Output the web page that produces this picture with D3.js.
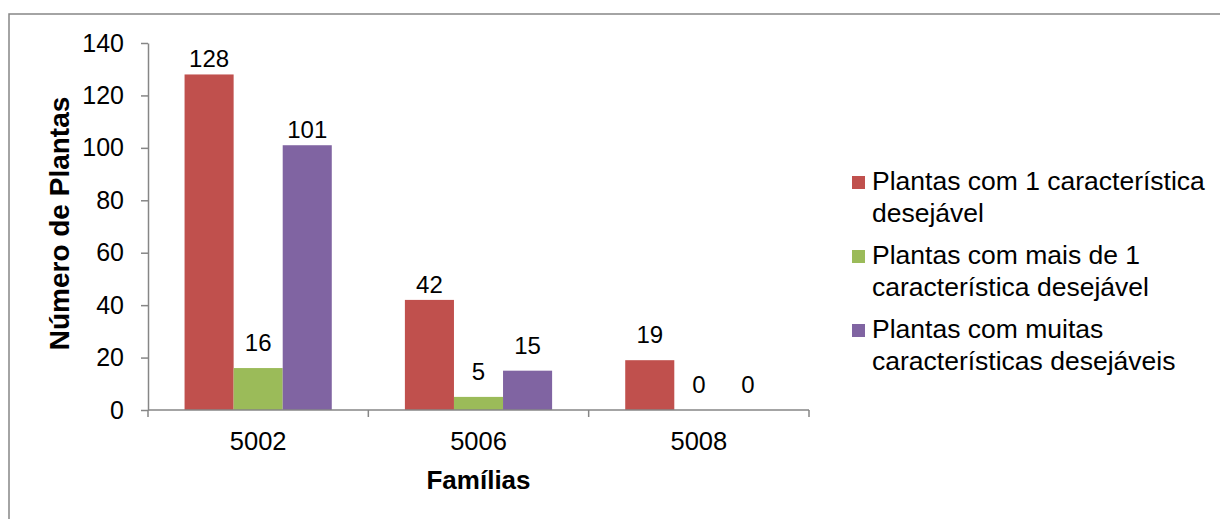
<!DOCTYPE html>
<html>
<head>
<meta charset="utf-8">
<script src="https://cdn.jsdelivr.net/npm/d3@7"></script>
<style>
  body { margin: 0; background: #fff; }
  svg { display: block; font-family: "Liberation Sans", Arial, sans-serif; }
</style>
</head>
<body>
<script>
// data
const familias = ["5002", "5006", "5008"];
const seriesNames = [
  "Plantas com 1 característica desejável",
  "Plantas com mais de 1 característica desejável",
  "Plantas com muitas características desejáveis"
];
const umaCaract = [128, 42, 19];
const maisDeUma = [16, 5, 0];
const muitasCaract = [101, 15, 0];
const yTicks = [0, 20, 40, 60, 80, 100, 120, 140];
// legend lines (how the text wraps)
const legendLines = [
  ["Plantas com 1 característica", "desejável"],
  ["Plantas com mais de 1", "característica desejável"],
  ["Plantas com muitas", "características desejáveis"]
];

const WIDTH = 1220, HEIGHT = 519;
const COLORS = ["#C0504D", "#9BBB59", "#8064A2"];
const AXIS = "#868686";

const svg = d3.select("body").append("svg")
  .attr("width", WIDTH)
  .attr("height", HEIGHT);

// outer chart frame (right/bottom edges fall outside the picture)
svg.append("rect")
  .attr("x", 9).attr("y", 14)
  .attr("width", WIDTH + 10).attr("height", HEIGHT + 10)
  .attr("fill", "none")
  .attr("stroke", AXIS)
  .attr("stroke-width", 1.5);

// scales
const x = d3.scaleBand().domain(familias).range([148, 809]);
const xs = d3.scaleBand().domain(d3.range(3)).range([0, x.bandwidth()]).paddingOuter(0.745);
const y = d3.scaleLinear().domain([0, 140]).range([410, 43]);

const allSeries = [umaCaract, maisDeUma, muitasCaract];
const bars = [];
allSeries.forEach((vals, s) => {
  vals.forEach((v, i) => bars.push({ cat: familias[i], s: s, v: v }));
});

// bars
svg.append("g").selectAll("rect")
  .data(bars)
  .enter()
  .append("rect")
  .attr("x", d => x(d.cat) + xs(d.s))
  .attr("y", d => y(d.v))
  .attr("width", xs.bandwidth())
  .attr("height", d => y(0) - y(d.v))
  .attr("fill", d => COLORS[d.s]);

// y axis
const yAxis = svg.append("g")
  .attr("transform", "translate(148,0)")
  .call(d3.axisLeft(y).tickValues(yTicks).tickSize(7).tickPadding(17).tickSizeOuter(0));
yAxis.select(".domain").attr("stroke", AXIS).attr("stroke-width", 1.5);
yAxis.selectAll(".tick line").attr("stroke", AXIS).attr("stroke-width", 1.5);
yAxis.selectAll(".tick text")
  .attr("font-size", "25px")
  .attr("font-family", "Liberation Sans, Arial, sans-serif")
  .attr("fill", "#000");

// x axis: ticks at the category boundaries
const xAxis = svg.append("g")
  .attr("transform", "translate(0,410)");
xAxis.append("line")
  .attr("x1", 148).attr("x2", x.range()[1])
  .attr("stroke", AXIS).attr("stroke-width", 1.5);
xAxis.selectAll("line.tk")
  .data(familias.map(f => x(f)).concat([x.range()[1]]))
  .enter()
  .append("line")
  .attr("class", "tk")
  .attr("x1", d => d).attr("x2", d => d)
  .attr("y1", 0).attr("y2", 7)
  .attr("stroke", AXIS).attr("stroke-width", 1.5);
xAxis.selectAll("text")
  .data(familias)
  .enter()
  .append("text")
  .attr("x", d => x(d) + x.bandwidth() / 2)
  .attr("y", 40)
  .attr("text-anchor", "middle")
  .attr("font-size", "25.5px")
  .text(d => d);

// value labels
svg.append("g").selectAll("text")
  .data(bars)
  .enter()
  .append("text")
  .attr("x", d => x(d.cat) + xs(d.s) + xs.bandwidth() / 2)
  .attr("y", d => y(d.v) - (d.v >= 40 ? 7 : 17))
  .attr("text-anchor", "middle")
  .attr("font-size", "24px")
  .text(d => d.v);

// axis titles
svg.append("text")
  .attr("x", (148 + 809) / 2)
  .attr("y", 489)
  .attr("text-anchor", "middle")
  .attr("font-size", "26px")
  .attr("font-weight", "bold")
  .text("Famílias");

svg.append("text")
  .attr("transform", `translate(69,${(y(0) + y(140)) / 2 - 3}) rotate(-90)`)
  .attr("text-anchor", "middle")
  .attr("font-size", "28px")
  .attr("font-weight", "bold")
  .text("Número de Plantas");

// legend
const legend = svg.append("g").attr("transform", "translate(852,190)");
const item = legend.selectAll("g")
  .data(seriesNames)
  .enter()
  .append("g")
  .attr("transform", (d, i) => `translate(0,${i * 74})`);
item.append("rect")
  .attr("x", 0).attr("y", -14)
  .attr("width", 13).attr("height", 13)
  .attr("fill", (d, i) => COLORS[i]);
item.append("text")
  .attr("font-size", "26.5px")
  .selectAll("tspan")
  .data((d, i) => legendLines[i])
  .enter()
  .append("tspan")
  .attr("x", 20)
  .attr("y", (d, j) => j * 32)
  .text(d => d);
</script>
</body>
</html>
